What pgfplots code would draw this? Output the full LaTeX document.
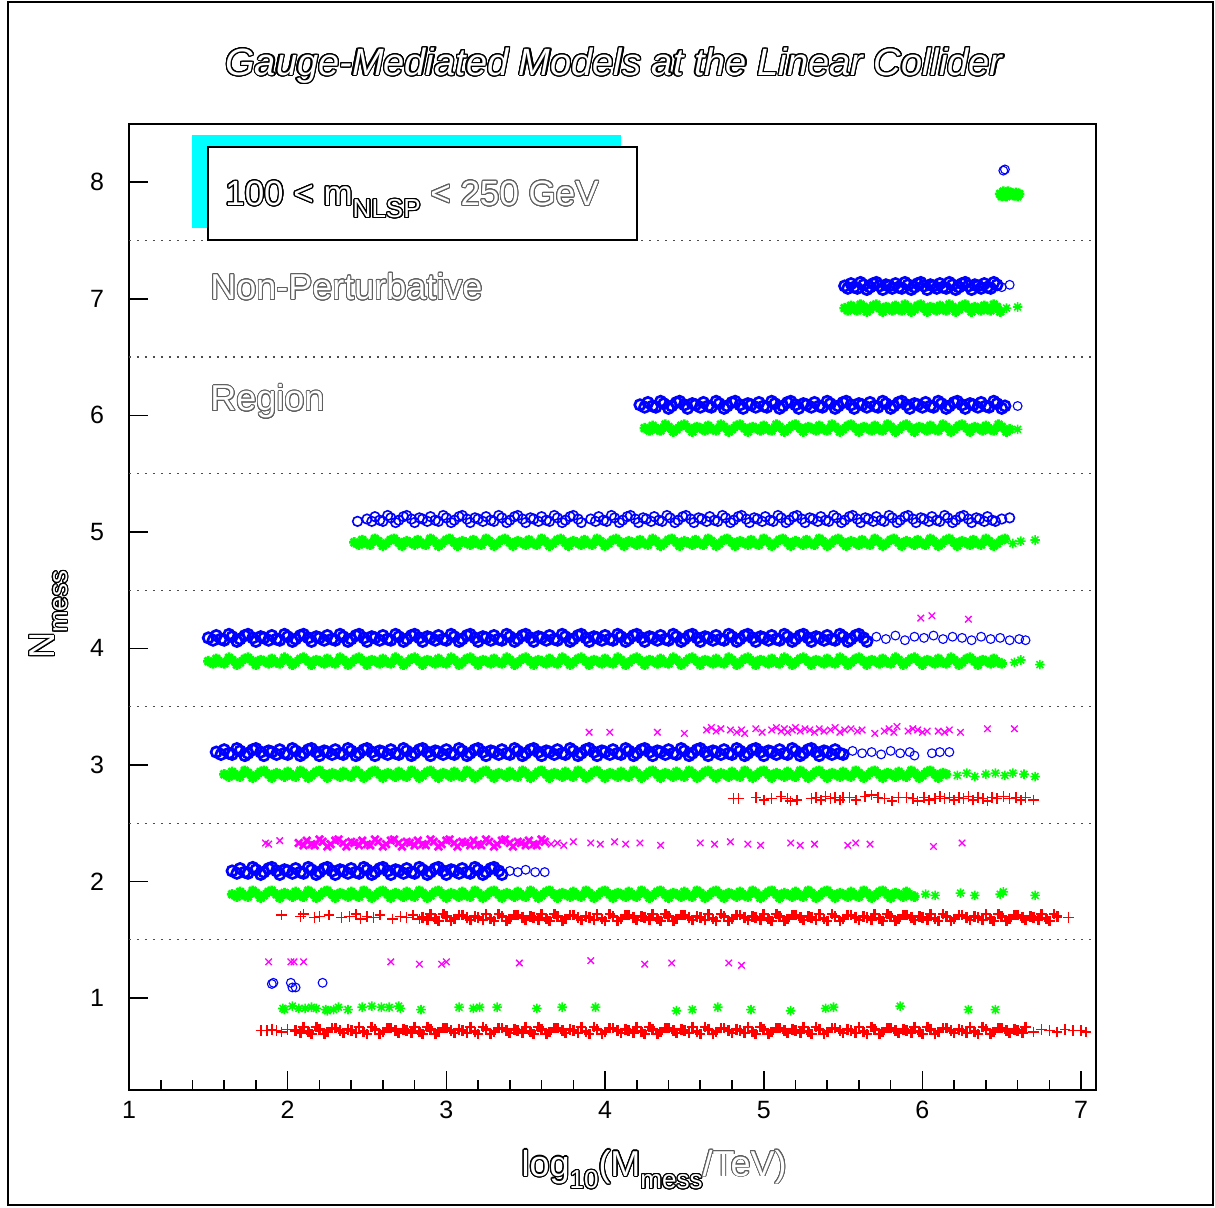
\documentclass[border=0pt]{standalone}
\usepackage{fontspec}
\setmainfont{Liberation Sans}
\usepackage{pgfplots}
\pgfplotsset{compat=1.18}
\usepackage{contour}
\contourlength{0.45pt}
\contournumber{24}
\newcommand{\ol}[2][black]{{\color{white}\contour{#1}{#2}}}
\newcommand{\sub}[1]{\raisebox{-0.35em}{\fontsize{13}{13}\selectfont #1}}
\definecolor{pblue}{RGB}{0,0,255}
\definecolor{pgreen}{RGB}{0,255,0}
\definecolor{pred}{RGB}{255,0,0}
\definecolor{pmag}{RGB}{255,0,255}
\definecolor{pcyan}{RGB}{0,255,255}
\definecolor{pgray}{RGB}{95,95,95}
\pgfdeclareplotmark{ast8}{%
 \pgfpathmoveto{\pgfqpoint{-\pgfplotmarksize}{0pt}}\pgfpathlineto{\pgfqpoint{\pgfplotmarksize}{0pt}}%
 \pgfpathmoveto{\pgfqpoint{0pt}{-\pgfplotmarksize}}\pgfpathlineto{\pgfqpoint{0pt}{\pgfplotmarksize}}%
 \pgfpathmoveto{\pgfqpoint{-.707\pgfplotmarksize}{-.707\pgfplotmarksize}}\pgfpathlineto{\pgfqpoint{.707\pgfplotmarksize}{.707\pgfplotmarksize}}%
 \pgfpathmoveto{\pgfqpoint{-.707\pgfplotmarksize}{.707\pgfplotmarksize}}\pgfpathlineto{\pgfqpoint{.707\pgfplotmarksize}{-.707\pgfplotmarksize}}%
 \pgfusepathqstroke}
\pgfplotsset{
 bc/.style={only marks, mark=o, mark size=2.2pt, color=pblue, mark options={line width=0.55pt, draw=pblue}},
 gs/.style={only marks, mark=ast8, mark size=2.3pt, color=pgreen, mark options={line width=0.65pt, draw=pgreen}},
 rp/.style={only marks, mark=+, mark size=2.6pt, color=pred, mark options={line width=0.8pt, draw=pred}},
 mx/.style={only marks, mark=x, mark size=2.3pt, color=pmag, mark options={line width=0.65pt, draw=pmag}},
 dense/.style={mark size=2.6pt, mark options={line width=1.35pt}},
 semi/.style={mark size=2.4pt, mark options={line width=0.8pt}},
}
\begin{document}
\begin{tikzpicture}[x=1pt,y=1pt]
\begin{axis}[anchor=south west, scale only axis,
 width=483.5pt, height=483pt, xmin=1, xmax=7.094, ymin=0.21, ymax=8.5,
 xtick={1,2,3,4,5,6,7}, ytick={1,2,3,4,5,6,7,8}, minor x tick num=4,
 tick align=inside, tick pos=left, major tick length=9.5pt, minor tick length=5pt,
 axis line style={line width=0.9pt}, every tick/.style={black, line width=0.8pt},
 tick label style={font=\fontsize{12.5}{14}\selectfont},
 /pgf/number format/assume math mode=true,
 xticklabel shift=2pt, yticklabel shift=9pt,
 extra y ticks={1.5,2.5,3.5,4.5,5.5,6.5,7.5}, extra y tick labels={},
 extra y tick style={grid=major, major tick length=0pt, grid style={black!70, line width=0.6pt, dash pattern=on 1.2pt off 2.8pt}},
 xlabel={\fontsize{18}{20}\selectfont\contourlength{0.55pt}\ol{log\sub{10}(M\sub{mess}}\contourlength{0.45pt}\ol[pgray]{/TeV)}},
 xlabel style={at={(axis description cs:0.543,0)}, anchor=center, yshift=-40pt},
 ylabel={\fontsize{18}{20}\selectfont\contourlength{0.55pt}\ol{N\sub{mess}}},
 ylabel style={at={(axis description cs:0,0.492)}, anchor=center, yshift=40pt},
]
\coordinate (SW) at (rel axis cs:0,0);
% N=8
\addplot[bc] coordinates {(6.51,8.10)(6.52,8.11)};
\addplot[gs,dense] coordinates {(6.49,7.90)(6.51,7.92)(6.53,7.88)(6.55,7.91)(6.57,7.89)(6.59,7.91)(6.61,7.90)(6.50,7.88)(6.54,7.92)(6.58,7.89)(6.52,7.90)(6.56,7.90)(6.60,7.88)};
% N=7
\addplot[bc,dense] coordinates {(5.51,7.11)(5.55,7.13)(5.59,7.09)(5.63,7.12)(5.67,7.10)(5.71,7.14)(5.75,7.08)
(5.79,7.11)(5.83,7.13)(5.87,7.09)(5.91,7.12)(5.95,7.10)(5.99,7.14)(6.03,7.08)
(6.07,7.11)(6.11,7.13)(6.15,7.09)(6.19,7.12)(6.23,7.10)(6.27,7.14)(6.31,7.08)
(6.35,7.11)(6.39,7.13)(6.43,7.09)(6.47,7.12)};
\addplot[bc] coordinates {(6.50,7.10)(6.55,7.12)};
\addplot[bc,dense] coordinates {(5.53,7.09)(5.57,7.10)(5.61,7.14)(5.65,7.08)(5.69,7.13)(5.73,7.11)(5.77,7.12)
(5.81,7.09)(5.85,7.10)(5.89,7.14)(5.93,7.08)(5.97,7.13)(6.01,7.11)(6.05,7.12)
(6.09,7.09)(6.13,7.10)(6.17,7.14)(6.21,7.08)(6.25,7.13)(6.29,7.11)(6.33,7.12)
(6.37,7.09)(6.41,7.10)(6.45,7.14)};
\addplot[gs,dense] coordinates {(5.51,6.92)(5.55,6.94)(5.59,6.90)(5.63,6.93)(5.67,6.91)(5.71,6.95)(5.75,6.89)
(5.79,6.92)(5.83,6.94)(5.87,6.90)(5.91,6.93)(5.95,6.91)(5.99,6.95)(6.03,6.89)
(6.07,6.92)(6.11,6.94)(6.15,6.90)(6.19,6.93)(6.23,6.91)(6.27,6.95)(6.31,6.89)
(6.35,6.92)(6.39,6.94)(6.43,6.90)(6.47,6.93)};
\addplot[gs,semi] coordinates {(6.53,6.92)(6.60,6.93)};
\addplot[gs,dense] coordinates {(5.53,6.90)(5.57,6.91)(5.61,6.95)(5.65,6.89)(5.69,6.94)(5.73,6.92)(5.77,6.93)
(5.81,6.90)(5.85,6.91)(5.89,6.95)(5.93,6.89)(5.97,6.94)(6.01,6.92)(6.05,6.93)
(6.09,6.90)(6.13,6.91)(6.17,6.95)(6.21,6.89)(6.25,6.94)(6.29,6.92)(6.33,6.93)
(6.37,6.90)(6.41,6.91)(6.45,6.95)(6.49,6.89)};
% N=6
\addplot[bc,dense] coordinates {(4.22,6.09)(4.27,6.11)(4.32,6.07)(4.37,6.10)(4.42,6.08)(4.47,6.12)(4.52,6.06)
(4.57,6.09)(4.62,6.11)(4.67,6.07)(4.72,6.10)(4.77,6.08)(4.82,6.12)(4.87,6.06)
(4.92,6.09)(4.97,6.11)(5.02,6.07)(5.07,6.10)(5.12,6.08)(5.17,6.12)(5.22,6.06)
(5.27,6.09)(5.32,6.11)(5.37,6.07)(5.42,6.10)(5.47,6.08)(5.52,6.12)(5.57,6.06)
(5.62,6.09)(5.67,6.11)(5.72,6.07)(5.77,6.10)(5.82,6.08)(5.87,6.12)(5.92,6.06)
(5.97,6.09)(6.02,6.11)(6.07,6.07)(6.12,6.10)(6.17,6.08)(6.22,6.12)(6.27,6.06)
(6.32,6.09)(6.37,6.11)(6.42,6.07)(6.47,6.10)(6.52,6.08)};
\addplot[bc] coordinates {(6.60,6.08)};
\addplot[bc,dense] coordinates {(4.25,6.07)(4.30,6.08)(4.35,6.12)(4.40,6.06)(4.45,6.11)(4.50,6.09)(4.55,6.10)
(4.60,6.07)(4.65,6.08)(4.70,6.12)(4.75,6.06)(4.80,6.11)(4.85,6.09)(4.90,6.10)
(4.95,6.07)(5.00,6.08)(5.05,6.12)(5.10,6.06)(5.15,6.11)(5.20,6.09)(5.25,6.10)
(5.30,6.07)(5.35,6.08)(5.40,6.12)(5.45,6.06)(5.50,6.11)(5.55,6.09)(5.60,6.10)
(5.65,6.07)(5.70,6.08)(5.75,6.12)(5.80,6.06)(5.85,6.11)(5.90,6.09)(5.95,6.10)
(6.00,6.07)(6.05,6.08)(6.10,6.12)(6.15,6.06)(6.20,6.11)(6.25,6.09)(6.30,6.10)
(6.35,6.07)(6.40,6.08)(6.45,6.12)(6.50,6.06)};
\addplot[gs,dense] coordinates {(4.25,5.89)(4.30,5.91)(4.35,5.87)(4.40,5.90)(4.45,5.88)(4.50,5.92)(4.55,5.86)
(4.60,5.89)(4.65,5.91)(4.70,5.87)(4.75,5.90)(4.80,5.88)(4.85,5.92)(4.90,5.86)
(4.95,5.89)(5.00,5.91)(5.05,5.87)(5.10,5.90)(5.15,5.88)(5.20,5.92)(5.25,5.86)
(5.30,5.89)(5.35,5.91)(5.40,5.87)(5.45,5.90)(5.50,5.88)(5.55,5.92)(5.60,5.86)
(5.65,5.89)(5.70,5.91)(5.75,5.87)(5.80,5.90)(5.85,5.88)(5.90,5.92)(5.95,5.86)
(6.00,5.89)(6.05,5.91)(6.10,5.87)(6.15,5.90)(6.20,5.88)(6.25,5.92)(6.30,5.86)
(6.35,5.89)(6.40,5.91)(6.45,5.87)(6.50,5.90)(6.55,5.88)};
\addplot[gs,semi] coordinates {(6.60,5.88)};
\addplot[gs,dense] coordinates {(4.28,5.87)(4.33,5.88)(4.38,5.92)(4.43,5.86)(4.48,5.91)(4.53,5.89)(4.58,5.90)
(4.63,5.87)(4.68,5.88)(4.73,5.92)(4.78,5.86)(4.83,5.91)(4.88,5.89)(4.93,5.90)
(4.98,5.87)(5.03,5.88)(5.08,5.92)(5.13,5.86)(5.18,5.91)(5.23,5.89)(5.28,5.90)
(5.33,5.87)(5.38,5.88)(5.43,5.92)(5.48,5.86)(5.53,5.91)(5.58,5.89)(5.63,5.90)
(5.68,5.87)(5.73,5.88)(5.78,5.92)(5.83,5.86)(5.88,5.91)(5.93,5.89)(5.98,5.90)
(6.03,5.87)(6.08,5.88)(6.13,5.92)(6.18,5.86)(6.23,5.91)(6.28,5.89)(6.33,5.90)
(6.38,5.87)(6.43,5.88)(6.48,5.92)(6.53,5.86)};
% N=5
\addplot[bc,semi] coordinates {(2.44,5.09)
(2.50,5.11)(2.55,5.13)(2.60,5.09)(2.65,5.12)(2.70,5.10)(2.75,5.14)(2.80,5.08)
(2.85,5.11)(2.90,5.13)(2.95,5.09)(3.00,5.12)(3.05,5.10)(3.10,5.14)(3.15,5.08)
(3.20,5.11)(3.25,5.13)(3.30,5.09)(3.35,5.12)(3.40,5.10)(3.45,5.14)(3.50,5.08)
(3.55,5.11)(3.60,5.13)(3.65,5.09)(3.70,5.12)(3.75,5.10)(3.80,5.14)(3.85,5.08)
(3.91,5.11)(3.96,5.13)(4.01,5.09)(4.06,5.12)(4.11,5.10)(4.16,5.14)(4.21,5.08)
(4.26,5.11)(4.31,5.13)(4.36,5.09)(4.41,5.12)(4.46,5.10)(4.51,5.14)(4.56,5.08)
(4.61,5.11)(4.66,5.13)(4.71,5.09)(4.76,5.12)(4.81,5.10)(4.86,5.14)(4.91,5.08)
(4.96,5.11)(5.01,5.13)(5.06,5.09)(5.11,5.12)(5.16,5.10)(5.21,5.14)(5.26,5.08)
(5.31,5.11)(5.36,5.13)(5.41,5.09)(5.46,5.12)(5.51,5.10)(5.56,5.14)(5.61,5.08)
(5.66,5.11)(5.71,5.13)(5.76,5.09)(5.81,5.12)(5.86,5.10)(5.91,5.14)(5.96,5.08)
(6.01,5.11)(6.06,5.13)(6.11,5.09)(6.16,5.12)(6.21,5.10)(6.26,5.14)(6.31,5.08)
(6.36,5.11)(6.41,5.13)(6.46,5.09)(6.55,5.12)};
\addplot[bc,semi] coordinates {(2.53,5.09)(2.58,5.10)(2.63,5.14)(2.68,5.08)(2.73,5.13)(2.78,5.11)(2.83,5.12)
(2.88,5.09)(2.93,5.10)(2.98,5.14)(3.03,5.08)(3.08,5.13)(3.13,5.11)(3.18,5.12)
(3.23,5.09)(3.28,5.10)(3.33,5.14)(3.38,5.08)(3.43,5.13)(3.48,5.11)(3.53,5.12)
(3.58,5.09)(3.63,5.10)(3.68,5.14)(3.73,5.08)(3.78,5.13)(3.83,5.11)
(3.94,5.09)(3.99,5.10)(4.04,5.14)(4.09,5.08)(4.14,5.13)(4.19,5.11)(4.24,5.12)
(4.29,5.09)(4.34,5.10)(4.39,5.14)(4.44,5.08)(4.49,5.13)(4.54,5.11)(4.59,5.12)
(4.64,5.09)(4.69,5.10)(4.74,5.14)(4.79,5.08)(4.84,5.13)(4.89,5.11)(4.94,5.12)
(4.99,5.09)(5.04,5.10)(5.09,5.14)(5.14,5.08)(5.19,5.13)(5.24,5.11)(5.29,5.12)
(5.34,5.09)(5.39,5.10)(5.44,5.14)(5.49,5.08)(5.54,5.13)(5.59,5.11)(5.64,5.12)
(5.69,5.09)(5.74,5.10)(5.79,5.14)(5.84,5.08)(5.89,5.13)(5.94,5.11)(5.99,5.12)
(6.04,5.09)(6.09,5.10)(6.14,5.14)(6.19,5.08)(6.24,5.13)(6.29,5.11)(6.34,5.12)
(6.39,5.09)(6.44,5.10)(6.50,5.11)};
\addplot[gs,dense] coordinates {(2.42,4.91)(2.47,4.93)(2.52,4.89)(2.57,4.92)(2.62,4.90)(2.67,4.94)(2.72,4.88)
(2.77,4.91)(2.82,4.93)(2.87,4.89)(2.92,4.92)(2.97,4.90)(3.02,4.94)(3.07,4.88)
(3.12,4.91)(3.17,4.93)(3.22,4.89)(3.27,4.92)(3.32,4.90)(3.37,4.94)(3.42,4.88)
(3.47,4.91)(3.52,4.93)(3.57,4.89)(3.62,4.92)(3.67,4.90)(3.72,4.94)(3.77,4.88)
(3.82,4.91)(3.87,4.93)(3.92,4.89)(3.97,4.92)(4.02,4.90)(4.07,4.94)(4.12,4.88)
(4.17,4.91)(4.22,4.93)(4.27,4.89)(4.32,4.92)(4.37,4.90)(4.42,4.94)(4.47,4.88)
(4.52,4.91)(4.57,4.93)(4.62,4.89)(4.67,4.92)(4.72,4.90)(4.77,4.94)(4.82,4.88)
(4.87,4.91)(4.92,4.93)(4.97,4.89)(5.02,4.92)(5.07,4.90)(5.12,4.94)(5.17,4.88)
(5.22,4.91)(5.27,4.93)(5.32,4.89)(5.37,4.92)(5.42,4.90)(5.47,4.94)(5.52,4.88)
(5.57,4.91)(5.62,4.93)(5.67,4.89)(5.72,4.92)(5.77,4.90)(5.82,4.94)(5.87,4.88)
(5.92,4.91)(5.97,4.93)(6.02,4.89)(6.07,4.92)(6.12,4.90)(6.17,4.94)(6.22,4.88)
(6.27,4.91)(6.32,4.93)(6.37,4.89)(6.42,4.92)(6.47,4.90)(6.52,4.94)};
\addplot[gs,semi] coordinates {(6.57,4.90)(6.62,4.92)(6.71,4.93)};
\addplot[gs,dense] coordinates {(2.45,4.89)(2.50,4.90)(2.55,4.94)(2.60,4.88)(2.65,4.93)(2.70,4.91)(2.75,4.92)
(2.80,4.89)(2.85,4.90)(2.90,4.94)(2.95,4.88)(3.00,4.93)(3.05,4.91)(3.10,4.92)
(3.15,4.89)(3.20,4.90)(3.25,4.94)(3.30,4.88)(3.35,4.93)(3.40,4.91)(3.45,4.92)
(3.50,4.89)(3.55,4.90)(3.60,4.94)(3.65,4.88)(3.70,4.93)(3.75,4.91)(3.80,4.92)
(3.85,4.89)(3.90,4.90)(3.95,4.94)(4.00,4.88)(4.05,4.93)(4.10,4.91)(4.15,4.92)
(4.20,4.89)(4.25,4.90)(4.30,4.94)(4.35,4.88)(4.40,4.93)(4.45,4.91)(4.50,4.92)
(4.55,4.89)(4.60,4.90)(4.65,4.94)(4.70,4.88)(4.75,4.93)(4.80,4.91)(4.85,4.92)
(4.90,4.89)(4.95,4.90)(5.00,4.94)(5.05,4.88)(5.10,4.93)(5.15,4.91)(5.20,4.92)
(5.25,4.89)(5.30,4.90)(5.35,4.94)(5.40,4.88)(5.45,4.93)(5.50,4.91)(5.55,4.92)
(5.60,4.89)(5.65,4.90)(5.70,4.94)(5.75,4.88)(5.80,4.93)(5.85,4.91)(5.90,4.92)
(5.95,4.89)(6.00,4.90)(6.05,4.94)(6.10,4.88)(6.15,4.93)(6.20,4.91)(6.25,4.92)
(6.30,4.89)(6.35,4.90)(6.40,4.94)(6.45,4.88)(6.50,4.93)};
% N=4
\addplot[mx] coordinates {(5.99,4.26)(6.06,4.28)(6.29,4.25)};
\addplot[bc,dense] coordinates {(1.50,4.09)(1.55,4.11)(1.60,4.07)(1.65,4.10)(1.70,4.08)(1.75,4.12)(1.80,4.06)
(1.85,4.09)(1.90,4.11)(1.95,4.07)(2.00,4.10)(2.05,4.08)(2.10,4.12)(2.15,4.06)
(2.20,4.09)(2.25,4.11)(2.30,4.07)(2.35,4.10)(2.40,4.08)(2.45,4.12)(2.50,4.06)
(2.55,4.09)(2.60,4.11)(2.65,4.07)(2.70,4.10)(2.75,4.08)(2.80,4.12)(2.85,4.06)
(2.90,4.09)(2.95,4.11)(3.00,4.07)(3.05,4.10)(3.10,4.08)(3.15,4.12)(3.20,4.06)
(3.25,4.09)(3.30,4.11)(3.35,4.07)(3.40,4.10)(3.45,4.08)(3.50,4.12)(3.55,4.06)
(3.60,4.09)(3.65,4.11)(3.70,4.07)(3.75,4.10)(3.80,4.08)(3.85,4.12)(3.90,4.06)
(3.95,4.09)(4.00,4.11)(4.05,4.07)(4.10,4.10)(4.15,4.08)(4.20,4.12)(4.25,4.06)
(4.30,4.09)(4.35,4.11)(4.40,4.07)(4.45,4.10)(4.50,4.08)(4.55,4.12)(4.60,4.06)
(4.65,4.09)(4.70,4.11)(4.75,4.07)(4.80,4.10)(4.85,4.08)(4.90,4.12)(4.95,4.06)
(5.00,4.09)(5.05,4.11)(5.10,4.07)(5.15,4.10)(5.20,4.08)(5.25,4.12)(5.30,4.06)
(5.35,4.09)(5.40,4.11)(5.45,4.07)(5.50,4.10)(5.55,4.08)(5.60,4.12)(5.65,4.06)};
\addplot[bc,dense] coordinates {(1.53,4.07)(1.58,4.08)(1.63,4.12)(1.68,4.06)(1.73,4.11)(1.78,4.09)(1.83,4.10)
(1.88,4.07)(1.93,4.08)(1.98,4.12)(2.03,4.06)(2.08,4.11)(2.13,4.09)(2.18,4.10)
(2.23,4.07)(2.28,4.08)(2.33,4.12)(2.38,4.06)(2.43,4.11)(2.48,4.09)(2.53,4.10)
(2.58,4.07)(2.63,4.08)(2.68,4.12)(2.73,4.06)(2.78,4.11)(2.83,4.09)(2.88,4.10)
(2.93,4.07)(2.98,4.08)(3.03,4.12)(3.08,4.06)(3.13,4.11)(3.18,4.09)(3.23,4.10)
(3.28,4.07)(3.33,4.08)(3.38,4.12)(3.43,4.06)(3.48,4.11)(3.53,4.09)(3.58,4.10)
(3.63,4.07)(3.68,4.08)(3.73,4.12)(3.78,4.06)(3.83,4.11)(3.88,4.09)(3.93,4.10)
(3.98,4.07)(4.03,4.08)(4.08,4.12)(4.13,4.06)(4.18,4.11)(4.23,4.09)(4.28,4.10)
(4.33,4.07)(4.38,4.08)(4.43,4.12)(4.48,4.06)(4.53,4.11)(4.58,4.09)(4.63,4.10)
(4.68,4.07)(4.73,4.08)(4.78,4.12)(4.83,4.06)(4.88,4.11)(4.93,4.09)(4.98,4.10)
(5.03,4.07)(5.08,4.08)(5.13,4.12)(5.18,4.06)(5.23,4.11)(5.28,4.09)(5.33,4.10)
(5.38,4.07)(5.43,4.08)(5.48,4.12)(5.53,4.06)(5.58,4.11)(5.63,4.09)};
\addplot[bc] coordinates {(5.71,4.10)(5.77,4.08)(5.83,4.11)(5.89,4.07)(5.95,4.10)(6.01,4.09)(6.07,4.11)(6.13,4.08)(6.19,4.10)
(6.25,4.09)(6.31,4.07)(6.37,4.10)(6.43,4.08)(6.49,4.09)(6.55,4.07)(6.61,4.08)(6.65,4.07)};
\addplot[gs,dense] coordinates {(1.50,3.89)(1.55,3.91)(1.60,3.87)(1.65,3.90)(1.70,3.88)(1.75,3.92)(1.80,3.86)
(1.85,3.89)(1.90,3.91)(1.95,3.87)(2.00,3.90)(2.05,3.88)(2.10,3.92)(2.15,3.86)
(2.20,3.89)(2.25,3.91)(2.30,3.87)(2.35,3.90)(2.40,3.88)(2.45,3.92)(2.50,3.86)
(2.55,3.89)(2.60,3.91)(2.65,3.87)(2.70,3.90)(2.75,3.88)(2.80,3.92)(2.85,3.86)
(2.90,3.89)(2.95,3.91)(3.00,3.87)(3.05,3.90)(3.10,3.88)(3.15,3.92)(3.20,3.86)
(3.25,3.89)(3.30,3.91)(3.35,3.87)(3.40,3.90)(3.45,3.88)(3.50,3.92)(3.55,3.86)
(3.60,3.89)(3.65,3.91)(3.70,3.87)(3.75,3.90)(3.80,3.88)(3.85,3.92)(3.90,3.86)
(3.95,3.89)(4.00,3.91)(4.05,3.87)(4.10,3.90)(4.15,3.88)(4.20,3.92)(4.25,3.86)
(4.30,3.89)(4.35,3.91)(4.40,3.87)(4.45,3.90)(4.50,3.88)(4.55,3.92)(4.60,3.86)
(4.65,3.89)(4.70,3.91)(4.75,3.87)(4.80,3.90)(4.85,3.88)(4.90,3.92)(4.95,3.86)
(5.00,3.89)(5.05,3.91)(5.10,3.87)(5.15,3.90)(5.20,3.88)(5.25,3.92)(5.30,3.86)
(5.35,3.89)(5.40,3.91)(5.45,3.87)(5.50,3.90)(5.55,3.88)(5.60,3.92)(5.65,3.86)
(5.70,3.89)(5.75,3.91)(5.80,3.87)(5.85,3.90)(5.90,3.88)(5.95,3.92)(6.00,3.86)
(6.05,3.89)(6.10,3.91)(6.15,3.87)(6.20,3.90)(6.25,3.88)(6.30,3.92)(6.35,3.86)
(6.40,3.89)(6.45,3.91)(6.50,3.87)};
\addplot[gs,semi] coordinates {(6.58,3.88)(6.62,3.90)(6.74,3.86)};
\addplot[gs,dense] coordinates {(1.53,3.87)(1.58,3.88)(1.63,3.92)(1.68,3.86)(1.73,3.91)(1.78,3.89)(1.83,3.90)
(1.88,3.87)(1.93,3.88)(1.98,3.92)(2.03,3.86)(2.08,3.91)(2.13,3.89)(2.18,3.90)
(2.23,3.87)(2.28,3.88)(2.33,3.92)(2.38,3.86)(2.43,3.91)(2.48,3.89)(2.53,3.90)
(2.58,3.87)(2.63,3.88)(2.68,3.92)(2.73,3.86)(2.78,3.91)(2.83,3.89)(2.88,3.90)
(2.93,3.87)(2.98,3.88)(3.03,3.92)(3.08,3.86)(3.13,3.91)(3.18,3.89)(3.23,3.90)
(3.28,3.87)(3.33,3.88)(3.38,3.92)(3.43,3.86)(3.48,3.91)(3.53,3.89)(3.58,3.90)
(3.63,3.87)(3.68,3.88)(3.73,3.92)(3.78,3.86)(3.83,3.91)(3.88,3.89)(3.93,3.90)
(3.98,3.87)(4.03,3.88)(4.08,3.92)(4.13,3.86)(4.18,3.91)(4.23,3.89)(4.28,3.90)
(4.33,3.87)(4.38,3.88)(4.43,3.92)(4.48,3.86)(4.53,3.91)(4.58,3.89)(4.63,3.90)
(4.68,3.87)(4.73,3.88)(4.78,3.92)(4.83,3.86)(4.88,3.91)(4.93,3.89)(4.98,3.90)
(5.03,3.87)(5.08,3.88)(5.13,3.92)(5.18,3.86)(5.23,3.91)(5.28,3.89)(5.33,3.90)
(5.38,3.87)(5.43,3.88)(5.48,3.92)(5.53,3.86)(5.58,3.91)(5.63,3.89)(5.68,3.90)
(5.73,3.87)(5.78,3.88)(5.83,3.92)(5.88,3.86)(5.93,3.91)(5.98,3.89)(6.03,3.90)
(6.08,3.87)(6.13,3.88)(6.18,3.92)(6.23,3.86)(6.28,3.91)(6.33,3.89)(6.38,3.90)
(6.43,3.87)(6.48,3.88)};
% N=3
\addplot[mx] coordinates {(3.90,3.28)(4.03,3.28)(4.33,3.28)(4.50,3.27)(4.64,3.30)(4.67,3.32)(4.70,3.29)(4.73,3.31)
(4.79,3.30)(4.83,3.28)(4.86,3.30)(4.88,3.27)(4.95,3.31)(4.99,3.28)(5.05,3.30)(5.08,3.32)(5.11,3.29)(5.13,3.31)
(5.15,3.28)(5.18,3.30)(5.20,3.32)(5.23,3.29)(5.26,3.31)(5.29,3.30)(5.32,3.28)(5.35,3.31)(5.38,3.29)(5.42,3.30)
(5.45,3.32)(5.48,3.28)(5.51,3.30)(5.55,3.31)(5.59,3.29)(5.62,3.30)(5.70,3.27)(5.76,3.29)(5.79,3.31)(5.82,3.28)
(5.84,3.33)(5.91,3.29)(5.94,3.31)(5.97,3.30)(6.00,3.28)(6.03,3.29)(6.10,3.29)(6.14,3.28)(6.17,3.30)(6.24,3.28)
(6.41,3.31)(6.58,3.31)};
\addplot[bc,dense] coordinates {(1.55,3.11)(1.60,3.13)(1.65,3.09)(1.70,3.12)(1.75,3.10)(1.80,3.14)(1.85,3.08)
(1.90,3.11)(1.95,3.13)(2.00,3.09)(2.05,3.12)(2.10,3.10)(2.15,3.14)(2.20,3.08)
(2.25,3.11)(2.30,3.13)(2.35,3.09)(2.40,3.12)(2.45,3.10)(2.50,3.14)(2.55,3.08)
(2.60,3.11)(2.65,3.13)(2.70,3.09)(2.75,3.12)(2.80,3.10)(2.85,3.14)(2.90,3.08)
(2.95,3.11)(3.00,3.13)(3.05,3.09)(3.10,3.12)(3.15,3.10)(3.20,3.14)(3.25,3.08)
(3.30,3.11)(3.35,3.13)(3.40,3.09)(3.45,3.12)(3.50,3.10)(3.55,3.14)(3.60,3.08)
(3.65,3.11)(3.70,3.13)(3.75,3.09)(3.80,3.12)(3.85,3.10)(3.90,3.14)(3.95,3.08)
(4.00,3.11)(4.05,3.13)(4.10,3.09)(4.15,3.12)(4.20,3.10)(4.25,3.14)(4.30,3.08)
(4.35,3.11)(4.40,3.13)(4.45,3.09)(4.50,3.12)(4.55,3.10)(4.60,3.14)(4.65,3.08)
(4.70,3.11)(4.75,3.13)(4.80,3.09)(4.85,3.12)(4.90,3.10)(4.95,3.14)(5.00,3.08)
(5.05,3.11)(5.10,3.13)(5.15,3.09)(5.20,3.12)(5.25,3.10)(5.30,3.14)(5.35,3.08)
(5.40,3.11)(5.45,3.13)(5.50,3.09)};
\addplot[bc,dense] coordinates {(1.58,3.09)(1.63,3.10)(1.68,3.14)(1.73,3.08)(1.78,3.13)(1.83,3.11)(1.88,3.12)
(1.93,3.09)(1.98,3.10)(2.03,3.14)(2.08,3.08)(2.13,3.13)(2.18,3.11)(2.23,3.12)
(2.28,3.09)(2.33,3.10)(2.38,3.14)(2.43,3.08)(2.48,3.13)(2.53,3.11)(2.58,3.12)
(2.63,3.09)(2.68,3.10)(2.73,3.14)(2.78,3.08)(2.83,3.13)(2.88,3.11)(2.93,3.12)
(2.98,3.09)(3.03,3.10)(3.08,3.14)(3.13,3.08)(3.18,3.13)(3.23,3.11)(3.28,3.12)
(3.33,3.09)(3.38,3.10)(3.43,3.14)(3.48,3.08)(3.53,3.13)(3.58,3.11)(3.63,3.12)
(3.68,3.09)(3.73,3.10)(3.78,3.14)(3.83,3.08)(3.88,3.13)(3.93,3.11)(3.98,3.12)
(4.03,3.09)(4.08,3.10)(4.13,3.14)(4.18,3.08)(4.23,3.13)(4.28,3.11)(4.33,3.12)
(4.38,3.09)(4.43,3.10)(4.48,3.14)(4.53,3.08)(4.58,3.13)(4.63,3.11)(4.68,3.12)
(4.73,3.09)(4.78,3.10)(4.83,3.14)(4.88,3.08)(4.93,3.13)(4.98,3.11)(5.03,3.12)
(5.08,3.09)(5.13,3.10)(5.18,3.14)(5.23,3.08)(5.28,3.13)(5.33,3.11)(5.38,3.12)
(5.43,3.09)(5.48,3.10)};
\addplot[bc] coordinates {(5.56,3.12)(5.62,3.10)(5.68,3.11)(5.74,3.09)(5.80,3.12)(5.86,3.10)
(5.92,3.11)(5.95,3.08)(6.06,3.10)(6.11,3.11)(6.17,3.11)};
\addplot[gs,dense] coordinates {(1.60,2.92)(1.65,2.94)(1.70,2.90)(1.75,2.93)(1.80,2.91)(1.85,2.95)(1.90,2.89)
(1.95,2.92)(2.00,2.94)(2.05,2.90)(2.10,2.93)(2.15,2.91)(2.20,2.95)(2.25,2.89)
(2.30,2.92)(2.35,2.94)(2.40,2.90)(2.45,2.93)(2.50,2.91)(2.55,2.95)(2.60,2.89)
(2.65,2.92)(2.70,2.94)(2.75,2.90)(2.80,2.93)(2.85,2.91)(2.90,2.95)(2.95,2.89)
(3.00,2.92)(3.05,2.94)(3.10,2.90)(3.15,2.93)(3.20,2.91)(3.25,2.95)(3.30,2.89)
(3.35,2.92)(3.40,2.94)(3.45,2.90)(3.50,2.93)(3.55,2.91)(3.60,2.95)(3.65,2.89)
(3.70,2.92)(3.75,2.94)(3.80,2.90)(3.85,2.93)(3.90,2.91)(3.95,2.95)(4.00,2.89)
(4.05,2.92)(4.10,2.94)(4.15,2.90)(4.20,2.93)(4.25,2.91)(4.30,2.95)(4.35,2.89)
(4.40,2.92)(4.45,2.94)(4.50,2.90)(4.55,2.93)(4.60,2.91)(4.65,2.95)(4.70,2.89)
(4.75,2.92)(4.80,2.94)(4.85,2.90)(4.90,2.93)(4.95,2.91)(5.00,2.95)(5.05,2.89)
(5.10,2.92)(5.15,2.94)(5.20,2.90)(5.25,2.93)(5.30,2.91)(5.35,2.95)(5.40,2.89)
(5.45,2.92)(5.50,2.94)(5.55,2.90)(5.60,2.93)(5.65,2.91)(5.70,2.95)(5.75,2.89)
(5.80,2.92)(5.85,2.94)(5.90,2.90)(5.95,2.93)(6.00,2.91)(6.05,2.95)(6.10,2.89)
(6.15,2.92)};
\addplot[gs,dense] coordinates {(1.63,2.90)(1.68,2.91)(1.73,2.95)(1.78,2.89)(1.83,2.94)(1.88,2.92)(1.93,2.93)
(1.98,2.90)(2.03,2.91)(2.08,2.95)(2.13,2.89)(2.18,2.94)(2.23,2.92)(2.28,2.93)
(2.33,2.90)(2.38,2.91)(2.43,2.95)(2.48,2.89)(2.53,2.94)(2.58,2.92)(2.63,2.93)
(2.68,2.90)(2.73,2.91)(2.78,2.95)(2.83,2.89)(2.88,2.94)(2.93,2.92)(2.98,2.93)
(3.03,2.90)(3.08,2.91)(3.13,2.95)(3.18,2.89)(3.23,2.94)(3.28,2.92)(3.33,2.93)
(3.38,2.90)(3.43,2.91)(3.48,2.95)(3.53,2.89)(3.58,2.94)(3.63,2.92)(3.68,2.93)
(3.73,2.90)(3.78,2.91)(3.83,2.95)(3.88,2.89)(3.93,2.94)(3.98,2.92)(4.03,2.93)
(4.08,2.90)(4.13,2.91)(4.18,2.95)(4.23,2.89)(4.28,2.94)(4.33,2.92)(4.38,2.93)
(4.43,2.90)(4.48,2.91)(4.53,2.95)(4.58,2.89)(4.63,2.94)(4.68,2.92)(4.73,2.93)
(4.78,2.90)(4.83,2.91)(4.88,2.95)(4.93,2.89)(4.98,2.94)(5.03,2.92)(5.08,2.93)
(5.13,2.90)(5.18,2.91)(5.23,2.95)(5.28,2.89)(5.33,2.94)(5.38,2.92)(5.43,2.93)
(5.48,2.90)(5.53,2.91)(5.58,2.95)(5.63,2.89)(5.68,2.94)(5.73,2.92)(5.78,2.93)
(5.83,2.90)(5.88,2.91)(5.93,2.95)(5.98,2.89)(6.03,2.94)(6.08,2.92)(6.13,2.93)};
\addplot[gs,semi] coordinates {(6.22,2.91)(6.28,2.93)(6.33,2.90)(6.40,2.92)(6.46,2.93)(6.52,2.91)(6.57,2.93)(6.64,2.92)(6.71,2.90)};
\addplot[rp] coordinates {(4.81,2.71)(4.84,2.71)(4.95,2.72)(5.00,2.70)(5.05,2.71)(5.11,2.73)(5.15,2.71)(5.17,2.69)
(5.21,2.70)(5.30,2.71)(5.33,2.72)(5.36,2.70)(5.39,2.73)(5.42,2.71)(5.45,2.72)(5.48,2.70)(5.50,2.72)(5.54,2.72)
(5.58,2.70)(5.64,2.73)(5.68,2.74)(5.72,2.72)(5.76,2.71)(5.81,2.69)(5.85,2.72)(5.90,2.72)(5.94,2.71)(5.97,2.69)
(6.01,2.72)(6.04,2.70)(6.08,2.71)(6.11,2.73)(6.14,2.71)(6.17,2.72)(6.20,2.70)(6.23,2.72)(6.26,2.71)(6.29,2.73)
(6.32,2.70)(6.35,2.72)(6.38,2.71)(6.41,2.69)(6.44,2.72)(6.47,2.71)(6.51,2.73)(6.55,2.71)(6.59,2.72)(6.62,2.70)
(6.65,2.72)(6.70,2.70)};
% N=2
\addplot[mx] coordinates {(1.86,2.33)(1.88,2.32)(1.95,2.35)};
\addplot[mx,dense] coordinates {(2.07,2.33)(2.12,2.35)(2.17,2.31)(2.22,2.34)(2.27,2.32)(2.32,2.36)(2.37,2.30)
(2.42,2.33)(2.47,2.35)(2.52,2.31)(2.57,2.34)(2.62,2.32)(2.67,2.36)(2.72,2.30)
(2.77,2.33)(2.82,2.35)(2.87,2.31)(2.92,2.34)(2.97,2.32)(3.02,2.36)(3.07,2.30)
(3.12,2.33)(3.17,2.35)(3.22,2.31)(3.27,2.34)(3.32,2.32)(3.37,2.36)(3.42,2.30)
(3.47,2.33)(3.52,2.35)(3.57,2.31)(3.62,2.34)};
\addplot[mx] coordinates {(3.66,2.32)(3.70,2.33)(3.74,2.31)(3.80,2.34)
(3.91,2.33)(3.97,2.32)(4.06,2.34)(4.13,2.32)(4.22,2.33)(4.35,2.31)(4.60,2.33)(4.69,2.32)(4.79,2.34)
(4.90,2.32)(4.98,2.31)(5.17,2.33)(5.23,2.31)(5.32,2.32)(5.53,2.31)(5.58,2.33)(5.67,2.32)(6.07,2.30)(6.25,2.33)};
\addplot[mx,dense] coordinates {(2.10,2.31)(2.15,2.32)(2.20,2.36)(2.25,2.30)(2.30,2.35)(2.35,2.33)(2.40,2.34)
(2.45,2.31)(2.50,2.32)(2.55,2.36)(2.60,2.30)(2.65,2.35)(2.70,2.33)(2.75,2.34)
(2.80,2.31)(2.85,2.32)(2.90,2.36)(2.95,2.30)(3.00,2.35)(3.05,2.33)(3.10,2.34)
(3.15,2.31)(3.20,2.32)(3.25,2.36)(3.30,2.30)(3.35,2.35)(3.40,2.33)(3.45,2.34)
(3.50,2.31)(3.55,2.32)(3.60,2.36)};
\addplot[bc,dense] coordinates {(1.65,2.09)(1.70,2.11)(1.75,2.07)(1.80,2.10)(1.85,2.08)(1.90,2.12)(1.95,2.06)
(2.00,2.09)(2.05,2.11)(2.10,2.07)(2.15,2.10)(2.20,2.08)(2.25,2.12)(2.30,2.06)
(2.35,2.09)(2.40,2.11)(2.45,2.07)(2.50,2.10)(2.55,2.08)(2.60,2.12)(2.65,2.06)
(2.70,2.09)(2.75,2.11)(2.80,2.07)(2.85,2.10)(2.90,2.08)(2.95,2.12)(3.00,2.06)
(3.05,2.09)(3.10,2.11)(3.15,2.07)(3.20,2.10)(3.25,2.08)(3.30,2.12)(3.35,2.06)};
\addplot[bc,dense] coordinates {(1.68,2.07)(1.73,2.08)(1.78,2.12)(1.83,2.06)(1.88,2.11)(1.93,2.09)(1.98,2.10)
(2.03,2.07)(2.08,2.08)(2.13,2.12)(2.18,2.06)(2.23,2.11)(2.28,2.09)(2.33,2.10)
(2.38,2.07)(2.43,2.08)(2.48,2.12)(2.53,2.06)(2.58,2.11)(2.63,2.09)(2.68,2.10)
(2.73,2.07)(2.78,2.08)(2.83,2.12)(2.88,2.06)(2.93,2.11)(2.98,2.09)(3.03,2.10)
(3.08,2.07)(3.13,2.08)(3.18,2.12)(3.23,2.06)(3.28,2.11)(3.33,2.09)};
\addplot[bc] coordinates {(3.40,2.09)(3.45,2.08)(3.50,2.10)(3.56,2.08)(3.62,2.08)};
\addplot[gs,dense] coordinates {(1.65,1.89)(1.70,1.91)(1.75,1.87)(1.80,1.90)(1.85,1.88)(1.90,1.92)(1.95,1.86)
(2.00,1.89)(2.05,1.91)(2.10,1.87)(2.15,1.90)(2.20,1.88)(2.25,1.92)(2.30,1.86)
(2.35,1.89)(2.40,1.91)(2.45,1.87)(2.50,1.90)(2.55,1.88)(2.60,1.92)(2.65,1.86)
(2.70,1.89)(2.75,1.91)(2.80,1.87)(2.85,1.90)(2.90,1.88)(2.95,1.92)(3.00,1.86)
(3.05,1.89)(3.10,1.91)(3.15,1.87)(3.20,1.90)(3.25,1.88)(3.30,1.92)(3.35,1.86)
(3.40,1.89)(3.45,1.91)(3.50,1.87)(3.55,1.90)(3.60,1.88)(3.65,1.92)(3.70,1.86)
(3.75,1.89)(3.80,1.91)(3.85,1.87)(3.90,1.90)(3.95,1.88)(4.00,1.92)(4.05,1.86)
(4.10,1.89)(4.15,1.91)(4.20,1.87)(4.25,1.90)(4.30,1.88)(4.35,1.92)(4.40,1.86)
(4.45,1.89)(4.50,1.91)(4.55,1.87)(4.60,1.90)(4.65,1.88)(4.70,1.92)(4.75,1.86)
(4.80,1.89)(4.85,1.91)(4.90,1.87)(4.95,1.90)(5.00,1.88)(5.05,1.92)(5.10,1.86)
(5.15,1.89)(5.20,1.91)(5.25,1.87)(5.30,1.90)(5.35,1.88)(5.40,1.92)(5.45,1.86)
(5.50,1.89)(5.55,1.91)(5.60,1.87)(5.65,1.90)(5.70,1.88)(5.75,1.92)(5.80,1.86)
(5.85,1.89)(5.90,1.91)(5.95,1.87)};
\addplot[gs,dense] coordinates {(1.68,1.87)(1.73,1.88)(1.78,1.92)(1.83,1.86)(1.88,1.91)(1.93,1.89)(1.98,1.90)
(2.03,1.87)(2.08,1.88)(2.13,1.92)(2.18,1.86)(2.23,1.91)(2.28,1.89)(2.33,1.90)
(2.38,1.87)(2.43,1.88)(2.48,1.92)(2.53,1.86)(2.58,1.91)(2.63,1.89)(2.68,1.90)
(2.73,1.87)(2.78,1.88)(2.83,1.92)(2.88,1.86)(2.93,1.91)(2.98,1.89)(3.03,1.90)
(3.08,1.87)(3.13,1.88)(3.18,1.92)(3.23,1.86)(3.28,1.91)(3.33,1.89)(3.38,1.90)
(3.43,1.87)(3.48,1.88)(3.53,1.92)(3.58,1.86)(3.63,1.91)(3.68,1.89)(3.73,1.90)
(3.78,1.87)(3.83,1.88)(3.88,1.92)(3.93,1.86)(3.98,1.91)(4.03,1.89)(4.08,1.90)
(4.13,1.87)(4.18,1.88)(4.23,1.92)(4.28,1.86)(4.33,1.91)(4.38,1.89)(4.43,1.90)
(4.48,1.87)(4.53,1.88)(4.58,1.92)(4.63,1.86)(4.68,1.91)(4.73,1.89)(4.78,1.90)
(4.83,1.87)(4.88,1.88)(4.93,1.92)(4.98,1.86)(5.03,1.91)(5.08,1.89)(5.13,1.90)
(5.18,1.87)(5.23,1.88)(5.28,1.92)(5.33,1.86)(5.38,1.91)(5.43,1.89)(5.48,1.90)
(5.53,1.87)(5.58,1.88)(5.63,1.92)(5.68,1.86)(5.73,1.91)(5.78,1.89)(5.83,1.90)
(5.88,1.87)(5.93,1.88)};
\addplot[gs,semi] coordinates {(6.02,1.89)(6.08,1.88)(6.24,1.90)(6.33,1.88)(6.49,1.89)(6.51,1.91)(6.71,1.88)};
\addplot[rp] coordinates {(1.96,1.71)(2.08,1.70)(2.10,1.72)(2.17,1.69)(2.20,1.70)(2.26,1.71)(2.34,1.69)(2.39,1.70)
(2.43,1.72)(2.46,1.68)(2.50,1.70)(2.54,1.69)(2.58,1.71)(2.66,1.68)(2.71,1.70)(2.75,1.69)(2.79,1.71)(2.83,1.68)};
\addplot[rp,dense] coordinates {(2.85,1.69)(2.90,1.72)(2.95,1.66)(3.00,1.70)(3.05,1.68)(3.10,1.71)(3.15,1.67)
(3.20,1.69)(3.25,1.72)(3.30,1.66)(3.35,1.70)(3.40,1.68)(3.45,1.71)(3.50,1.67)
(3.55,1.69)(3.60,1.72)(3.65,1.66)(3.70,1.70)(3.75,1.68)(3.80,1.71)(3.85,1.67)
(3.90,1.69)(3.95,1.72)(4.00,1.66)(4.05,1.70)(4.10,1.68)(4.15,1.71)(4.20,1.67)
(4.25,1.69)(4.30,1.72)(4.35,1.66)(4.40,1.70)(4.45,1.68)(4.50,1.71)(4.55,1.67)
(4.60,1.69)(4.65,1.72)(4.70,1.66)(4.75,1.70)(4.80,1.68)(4.85,1.71)(4.90,1.67)
(4.95,1.69)(5.00,1.72)(5.05,1.66)(5.10,1.70)(5.15,1.68)(5.20,1.71)(5.25,1.67)
(5.30,1.69)(5.35,1.72)(5.40,1.66)(5.45,1.70)(5.50,1.68)(5.55,1.71)(5.60,1.67)
(5.65,1.69)(5.70,1.72)(5.75,1.66)(5.80,1.70)(5.85,1.68)(5.90,1.71)(5.95,1.67)
(6.00,1.69)(6.05,1.72)(6.10,1.66)(6.15,1.70)(6.20,1.68)(6.25,1.71)(6.30,1.67)
(6.35,1.69)(6.40,1.72)(6.45,1.66)(6.50,1.70)(6.55,1.68)(6.60,1.71)(6.65,1.67)
(6.70,1.69)(6.75,1.72)(6.80,1.66)(6.85,1.70)};
\addplot[rp] coordinates {(6.92,1.69)};
\addplot[rp,dense] coordinates {(2.88,1.67)(2.93,1.68)(2.98,1.72)(3.03,1.66)(3.08,1.71)(3.13,1.69)(3.18,1.70)
(3.23,1.67)(3.28,1.68)(3.33,1.72)(3.38,1.66)(3.43,1.71)(3.48,1.69)(3.53,1.70)
(3.58,1.67)(3.63,1.68)(3.68,1.72)(3.73,1.66)(3.78,1.71)(3.83,1.69)(3.88,1.70)
(3.93,1.67)(3.98,1.68)(4.03,1.72)(4.08,1.66)(4.13,1.71)(4.18,1.69)(4.23,1.70)
(4.28,1.67)(4.33,1.68)(4.38,1.72)(4.43,1.66)(4.48,1.71)(4.53,1.69)(4.58,1.70)
(4.63,1.67)(4.68,1.68)(4.73,1.72)(4.78,1.66)(4.83,1.71)(4.88,1.69)(4.93,1.70)
(4.98,1.67)(5.03,1.68)(5.08,1.72)(5.13,1.66)(5.18,1.71)(5.23,1.69)(5.28,1.70)
(5.33,1.67)(5.38,1.68)(5.43,1.72)(5.48,1.66)(5.53,1.71)(5.58,1.69)(5.63,1.70)
(5.68,1.67)(5.73,1.68)(5.78,1.72)(5.83,1.66)(5.88,1.71)(5.93,1.69)(5.98,1.70)
(6.03,1.67)(6.08,1.68)(6.13,1.72)(6.18,1.66)(6.23,1.71)(6.28,1.69)(6.33,1.70)
(6.38,1.67)(6.43,1.68)(6.48,1.72)(6.53,1.66)(6.58,1.71)(6.63,1.69)(6.68,1.70)
(6.73,1.67)(6.78,1.68)(6.83,1.72)};
% N=1
\addplot[mx] coordinates {(1.88,1.31)(2.02,1.31)(2.04,1.31)(2.10,1.31)(2.65,1.31)(2.83,1.29)(2.97,1.29)(3.00,1.31)
(3.46,1.30)(3.91,1.32)(4.25,1.29)(4.42,1.30)(4.78,1.30)(4.86,1.28)};
\addplot[bc] coordinates {(1.90,1.12)(1.91,1.13)(2.02,1.13)(2.03,1.09)(2.05,1.09)(2.22,1.13)};
\addplot[gs,semi] coordinates {(1.97,0.91)(1.98,0.90)(2.03,0.93)(2.07,0.91)(2.11,0.91)(2.15,0.92)(2.18,0.91)(2.24,0.90)
(2.25,0.89)(2.29,0.90)(2.32,0.92)(2.38,0.90)(2.47,0.92)(2.53,0.93)(2.59,0.92)(2.64,0.92)(2.70,0.93)(2.71,0.91)
(2.84,0.90)(3.08,0.92)(3.17,0.91)(3.21,0.92)(3.32,0.92)(3.57,0.91)(3.73,0.92)(3.94,0.92)(4.45,0.89)(4.55,0.90)
(4.71,0.92)(4.92,0.90)(5.17,0.89)(5.39,0.91)(5.44,0.92)(5.86,0.93)(6.29,0.90)(6.46,0.90)};
\addplot[rp] coordinates {(1.83,0.72)(1.87,0.72)(1.90,0.73)(1.93,0.72)(1.96,0.71)(2.00,0.73)};
\addplot[rp,dense] coordinates {(2.05,0.72)(2.10,0.75)(2.15,0.69)(2.20,0.73)(2.25,0.71)(2.30,0.74)(2.35,0.70)
(2.40,0.72)(2.45,0.75)(2.50,0.69)(2.55,0.73)(2.60,0.71)(2.65,0.74)(2.70,0.70)
(2.75,0.72)(2.80,0.75)(2.85,0.69)(2.90,0.73)(2.95,0.71)(3.00,0.74)(3.05,0.70)
(3.10,0.72)(3.15,0.75)(3.20,0.69)(3.25,0.73)(3.30,0.71)(3.35,0.74)(3.40,0.70)
(3.45,0.72)(3.50,0.75)(3.55,0.69)(3.60,0.73)(3.65,0.71)(3.70,0.74)(3.75,0.70)
(3.80,0.72)(3.85,0.75)(3.90,0.69)(3.95,0.73)(4.00,0.71)(4.05,0.74)(4.10,0.70)
(4.15,0.72)(4.20,0.75)(4.25,0.69)(4.30,0.73)(4.35,0.71)(4.40,0.74)(4.45,0.70)
(4.50,0.72)(4.55,0.75)(4.60,0.69)(4.65,0.73)(4.70,0.71)(4.75,0.74)(4.80,0.70)
(4.85,0.72)(4.90,0.75)(4.95,0.69)(5.00,0.73)(5.05,0.71)(5.10,0.74)(5.15,0.70)
(5.20,0.72)(5.25,0.75)(5.30,0.69)(5.35,0.73)(5.40,0.71)(5.45,0.74)(5.50,0.70)
(5.55,0.72)(5.60,0.75)(5.65,0.69)(5.70,0.73)(5.75,0.71)(5.80,0.74)(5.85,0.70)
(5.90,0.72)(5.95,0.75)(6.00,0.69)(6.05,0.73)(6.10,0.71)(6.15,0.74)(6.20,0.70)
(6.25,0.72)(6.30,0.75)(6.35,0.69)(6.40,0.73)(6.45,0.71)(6.50,0.74)(6.55,0.70)
(6.60,0.72)(6.65,0.75)};
\addplot[rp,dense] coordinates {(2.08,0.70)(2.13,0.71)(2.18,0.75)(2.23,0.69)(2.28,0.74)(2.33,0.72)(2.38,0.73)
(2.43,0.70)(2.48,0.71)(2.53,0.75)(2.58,0.69)(2.63,0.74)(2.68,0.72)(2.73,0.73)
(2.78,0.70)(2.83,0.71)(2.88,0.75)(2.93,0.69)(2.98,0.74)(3.03,0.72)(3.08,0.73)
(3.13,0.70)(3.18,0.71)(3.23,0.75)(3.28,0.69)(3.33,0.74)(3.38,0.72)(3.43,0.73)
(3.48,0.70)(3.53,0.71)(3.58,0.75)(3.63,0.69)(3.68,0.74)(3.73,0.72)(3.78,0.73)
(3.83,0.70)(3.88,0.71)(3.93,0.75)(3.98,0.69)(4.03,0.74)(4.08,0.72)(4.13,0.73)
(4.18,0.70)(4.23,0.71)(4.28,0.75)(4.33,0.69)(4.38,0.74)(4.43,0.72)(4.48,0.73)
(4.53,0.70)(4.58,0.71)(4.63,0.75)(4.68,0.69)(4.73,0.74)(4.78,0.72)(4.83,0.73)
(4.88,0.70)(4.93,0.71)(4.98,0.75)(5.03,0.69)(5.08,0.74)(5.13,0.72)(5.18,0.73)
(5.23,0.70)(5.28,0.71)(5.33,0.75)(5.38,0.69)(5.43,0.74)(5.48,0.72)(5.53,0.73)
(5.58,0.70)(5.63,0.71)(5.68,0.75)(5.73,0.69)(5.78,0.74)(5.83,0.72)(5.88,0.73)
(5.93,0.70)(5.98,0.71)(6.03,0.75)(6.08,0.69)(6.13,0.74)(6.18,0.72)(6.23,0.73)
(6.28,0.70)(6.33,0.71)(6.38,0.75)(6.43,0.69)(6.48,0.74)(6.53,0.72)(6.58,0.73)
(6.63,0.70)};
\addplot[rp] coordinates {(6.70,0.71)(6.75,0.73)(6.80,0.72)(6.85,0.71)(6.90,0.73)(6.95,0.72)(7.00,0.72)(7.03,0.71)};
\end{axis}
\begin{scope}[shift={(SW)}]
\pgfresetboundingbox
\path[use as bounding box] (-64.5,-58.5) rectangle (543,545);
\draw[line width=0.7pt] (-60.5,-57.5) rectangle (542,544);
\node at (242.5,512) {\fontsize{19}{22}\selectfont\itshape\contourlength{0.6pt}\ol{Gauge-Mediated Models at the Linear Collider}};
\fill[pcyan] (31.5,431) rectangle (246,477.5);
\draw[fill=white, line width=0.6pt] (39.5,425) rectangle (254,471.5);
\node at (141.5,445) {\fontsize{17.5}{20}\selectfont\contourlength{0.6pt}\ol{100 < m\sub{NLSP}}\contourlength{0.45pt}\ol[pgray]{ < 250 GeV}};
\node[anchor=west, inner sep=0pt] at (40.5,401.5) {\fontsize{18}{20}\selectfont\ol[pgray]{Non-Perturbative}};
\node[anchor=west, inner sep=0pt] at (40.5,344) {\fontsize{18}{20}\selectfont\ol[pgray]{Region}};
\end{scope}
\end{tikzpicture}
\end{document}
